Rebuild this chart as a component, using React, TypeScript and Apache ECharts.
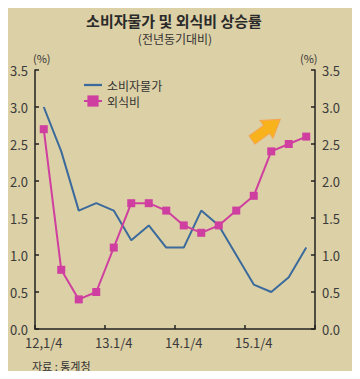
import React, { useEffect, useRef } from "react";
import * as echarts from "echarts";

const categories = [
  "12.1/4", "12.2/4", "12.3/4", "12.4/4",
  "13.1/4", "13.2/4", "13.3/4", "13.4/4",
  "14.1/4", "14.2/4", "14.3/4", "14.4/4",
  "15.1/4", "15.2/4", "15.3/4", "15.4/4",
];
const cpi = [3.0, 2.4, 1.6, 1.7, 1.6, 1.2, 1.4, 1.1, 1.1, 1.6, 1.4, 1.0, 0.6, 0.5, 0.7, 1.1];
const dining = [2.7, 0.8, 0.4, 0.5, 1.1, 1.7, 1.7, 1.6, 1.4, 1.3, 1.4, 1.6, 1.8, 2.4, 2.5, 2.6];
const yTicks = [0, 0.5, 1.0, 1.5, 2.0, 2.5, 3.0, 3.5];

const FONT = "'Noto Sans CJK KR', 'Noto Sans', sans-serif";
const BG = "#dcd0a6";

export default function App() {
  const ref = useRef<HTMLDivElement>(null);
  useEffect(() => {
    if (!ref.current) return;
    const chart = echarts.init(ref.current, undefined, { renderer: "svg" });
    const yAxisBase = {
      type: "value" as const,
      min: 0,
      max: 3.5,
      interval: 0.5,
      splitLine: { show: false },
      axisLine: { show: true, lineStyle: { color: "#222", width: 1.5 } },
      axisTick: { show: true, inside: true, length: 4, lineStyle: { color: "#222", width: 1.5 } },
      axisLabel: {
        color: "#3a3a3a",
        fontFamily: FONT,
        fontSize: 13,
        margin: 7,
        formatter: (v: number) => (yTicks.includes(v) ? v.toFixed(1) : ""),
      },
    };
    chart.setOption({
      animation: false,
      backgroundColor: BG,
      grid: { left: 35, right: 45, top: 70, bottom: 50, containLabel: false },
      title: [
        {
          text: "소비자물가 및 외식비 상승률",
          left: 174,
          top: 11,
          padding: 0,
          textAlign: "center",
          textStyle: { fontFamily: FONT, fontSize: 15, lineHeight: 18, fontWeight: "bold", color: "#2a2a2a" },
        },
        {
          text: "(전년동기대비)",
          left: 175,
          top: 31,
          padding: 0,
          textAlign: "center",
          textStyle: { fontFamily: FONT, fontSize: 12, lineHeight: 14, fontWeight: "normal", color: "#333" },
        },
      ],
      legend: {
        left: 78,
        top: 74,
        orient: "vertical",
        itemGap: 4,
        itemWidth: 18,
        itemHeight: 14,
        textStyle: { fontFamily: FONT, fontSize: 12, color: "#333" },
        data: [
          { name: "소비자물가", icon: "path://M0,6 L20,6 L20,8.5 L0,8.5 Z" },
          { name: "외식비" },
        ],
      },
      xAxis: {
        type: "category",
        data: categories,
        boundaryGap: true,
        axisLine: { lineStyle: { color: "#222", width: 1.5 } },
        axisTick: { show: true, inside: true, length: 4, interval: 3, lineStyle: { color: "#222", width: 1.5 } },
        axisLabel: {
          interval: 3,
          color: "#3a3a3a",
          fontFamily: FONT,
          fontSize: 13,
          margin: 7,
          formatter: (v: string) => v.replace(/^12\./, "12,"),
        },
      },
      yAxis: [
        { ...yAxisBase, position: "left" },
        { ...yAxisBase, position: "right" },
      ],
      series: [
        {
          name: "소비자물가",
          type: "line",
          data: cpi,
          yAxisIndex: 0,
          symbol: "none",
          lineStyle: { color: "#3b6a9c", width: 2 },
          itemStyle: { color: "#3b6a9c" },
        },
        {
          name: "외식비",
          type: "line",
          data: dining,
          yAxisIndex: 0,
          symbol: "rect",
          symbolSize: 8,
          lineStyle: { color: "#cf3fa0", width: 2 },
          itemStyle: { color: "#cf3fa0" },
        },
      ],
      graphic: [
        { type: "text", left: 33, top: 52, style: { text: "(%)", fontFamily: FONT, fontSize: 11, fill: "#333" } },
        { type: "text", left: 300, top: 52, style: { text: "(%)", fontFamily: FONT, fontSize: 11, fill: "#333" } },
        { type: "text", left: 32, top: 360, style: { text: "자료 : 통계청", fontFamily: FONT, fontSize: 11, fill: "#333" } },
        {
          type: "polygon",
          x: 252,
          y: 140,
          rotation: 0.63,
          shape: { points: [[0, -5], [18, -5], [18, -11], [35, 0], [18, 11], [18, 5], [0, 5]] },
          style: { fill: "#f8b21c", stroke: "#f4a553", lineWidth: 1 },
        },
      ],
    });
    return () => chart.dispose();
  }, []);
  return <div ref={ref} style={{ width: 360, height: 379, margin: -8 }} />;
}
